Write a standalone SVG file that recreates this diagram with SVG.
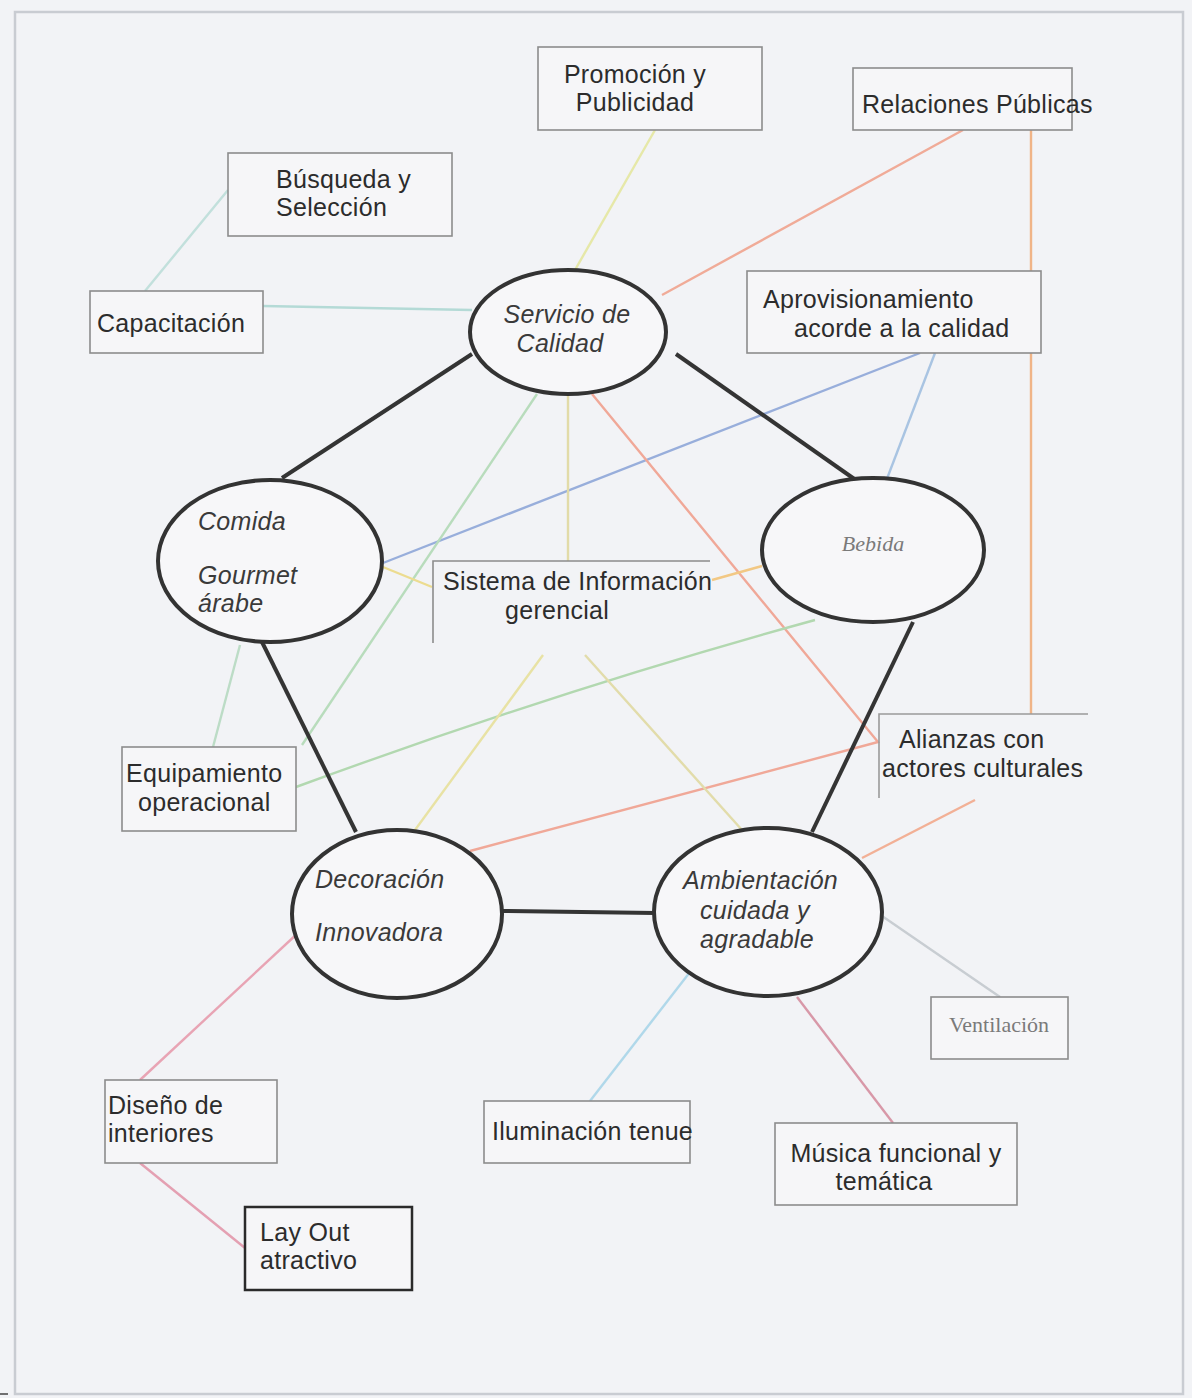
<svg xmlns="http://www.w3.org/2000/svg" width="1192" height="1398" viewBox="0 0 1192 1398">
<style>
.bg{fill:#f2f3f6}
.box{fill:#f6f6f8;stroke:#8c8c8c;stroke-width:1.6}
.ell{fill:#f7f7f9;stroke:#333;stroke-width:4}
.t{font-family:"Liberation Sans",Arial,sans-serif;font-size:25px;fill:#2c2c2c;letter-spacing:0.3px}
.i{font-family:"Liberation Sans",Arial,sans-serif;font-size:25px;font-style:italic;fill:#3a3a3a;letter-spacing:0.3px}
.s{font-family:"Liberation Serif",serif;font-size:22px;fill:#7a7a7a}
.k{stroke:#343434;stroke-width:4;fill:none}
.c{stroke-width:2.4;fill:none}
</style>
<rect class="bg" x="0" y="0" width="1192" height="1398"/>
<rect x="15" y="12" width="1168" height="1382" fill="none" stroke="#c9ccd2" stroke-width="2.5"/>
<line x1="0" y1="1394" x2="8" y2="1394" stroke="#444" stroke-width="1.5"/>
<g id="connectors">
<line class="c" x1="228" y1="190" x2="145" y2="291" stroke="#c2e0dc"/>
<line class="c" x1="263" y1="306" x2="472" y2="310" stroke="#b4dad6" stroke-width="4"/>
<line class="c" x1="655" y1="130" x2="575" y2="270" stroke="#e6e8a8"/>
<line class="c" x1="963" y1="130" x2="662" y2="295" stroke="#f0ab98"/>
<line class="c" x1="1031" y1="130" x2="1031" y2="714" stroke="#f0b487"/>
<line class="c" x1="935" y1="353" x2="880" y2="497" stroke="#a9c4e2"/>
<line class="c" x1="920" y1="353" x2="383" y2="563" stroke="#98aedb"/>
<line class="c" x1="537" y1="394" x2="302" y2="745" stroke="#b8dcbc"/>
<line class="c" x1="568" y1="395" x2="568" y2="561" stroke="#e2dba8"/>
<polyline class="c" points="592,394 878,742 470,851" stroke="#f0a898"/>
<line class="c" x1="383" y1="567" x2="432" y2="587" stroke="#ecdc90" stroke-width="3.5"/>
<line class="c" x1="712" y1="580" x2="762" y2="566" stroke="#f2c884" stroke-width="3"/>
<line class="c" x1="240" y1="645" x2="213" y2="747" stroke="#bcdcc6"/>
<path class="c" d="M296,787 Q560,690 815,620" stroke="#b2d8b0" stroke-width="3"/>
<line class="c" x1="543" y1="655" x2="415" y2="830" stroke="#e8e2a4"/>
<line class="c" x1="585" y1="655" x2="742" y2="830" stroke="#e2dcaa"/>
<line class="c" x1="862" y1="858" x2="975" y2="800" stroke="#f2b096"/>
<line class="c" x1="882" y1="916" x2="1000" y2="997" stroke="#c8cdd2"/>
<line class="c" x1="797" y1="997" x2="893" y2="1123" stroke="#d898a8"/>
<line class="c" x1="690" y1="972" x2="590" y2="1101" stroke="#b0d8ea"/>
<line class="c" x1="298" y1="933" x2="140" y2="1080" stroke="#e8a4b4"/>
<line class="c" x1="140" y1="1163" x2="245" y2="1248" stroke="#e4a0b2"/>
<line class="k" x1="472" y1="354" x2="282" y2="478"/>
<line class="k" x1="676" y1="354" x2="880" y2="497"/>
<line class="k" x1="262" y1="642" x2="356" y2="832"/>
<line class="k" x1="913" y1="622" x2="812" y2="832"/>
<line class="k" x1="502" y1="911" x2="655" y2="913"/>
</g>
<g id="promocion"><rect class="box" x="538" y="47" width="224" height="83"/><text class="t" x="635" y="83" text-anchor="middle">Promoción y</text><text class="t" x="635" y="111" text-anchor="middle">Publicidad</text></g>
<g id="relaciones"><rect class="box" x="853" y="68" width="219" height="62"/><text class="t" x="862" y="113">Relaciones Públicas</text></g>
<g id="busqueda"><rect class="box" x="228" y="153" width="224" height="83"/><text class="t" x="276" y="188">Búsqueda y</text><text class="t" x="276" y="216">Selección</text></g>
<g id="capacitacion"><rect class="box" x="90" y="291" width="173" height="62"/><text class="t" x="97" y="332">Capacitación</text></g>
<g id="servicio"><ellipse class="ell" cx="568" cy="332" rx="98" ry="62"/><text class="i" x="567" y="323" text-anchor="middle">Servicio de</text><text class="i" x="560" y="352" text-anchor="middle">Calidad</text></g>
<g id="aprovisionamiento"><rect class="box" x="747" y="271" width="294" height="82"/><text class="t" x="763" y="308">Aprovisionamiento</text><text class="t" x="794" y="337">acorde a la calidad</text></g>
<g id="comida"><ellipse class="ell" cx="270" cy="561" rx="112" ry="81"/><text class="i" x="198" y="530">Comida</text><text class="i" x="198" y="584">Gourmet</text><text class="i" x="198" y="612">árabe</text></g>
<g id="bebida"><ellipse class="ell" cx="873" cy="550" rx="111" ry="72"/><text class="s" x="873" y="551" text-anchor="middle" font-style="italic">Bebida</text></g>
<g id="sistema"><polyline points="433,643 433,561 710,561" fill="none" stroke="#8c8c8c" stroke-width="1.6"/><text class="t" x="443" y="590">Sistema de Información</text><text class="t" x="505" y="619">gerencial</text></g>
<g id="equipamiento"><rect class="box" x="122" y="747" width="174" height="84"/><text class="t" x="126" y="782">Equipamiento</text><text class="t" x="138" y="811">operacional</text></g>
<g id="alianzas"><polyline points="879,798 879,714 1088,714" fill="none" stroke="#9a9a9a" stroke-width="1.6"/><text class="t" x="899" y="748">Alianzas con</text><text class="t" x="882" y="777">actores culturales</text></g>
<g id="decoracion"><ellipse class="ell" cx="397" cy="914" rx="105" ry="84"/><text class="i" x="315" y="888">Decoración</text><text class="i" x="315" y="941">Innovadora</text></g>
<g id="ambientacion"><ellipse class="ell" cx="768" cy="912" rx="114" ry="84"/><text class="i" x="683" y="889">Ambientación</text><text class="i" x="700" y="919">cuidada y</text><text class="i" x="700" y="948">agradable</text></g>
<g id="ventilacion"><rect class="box" x="931" y="997" width="137" height="62"/><text class="s" x="999" y="1032" text-anchor="middle">Ventilación</text></g>
<g id="diseno"><rect class="box" x="105" y="1080" width="172" height="83"/><text class="t" x="108" y="1114">Diseño de</text><text class="t" x="108" y="1142">interiores</text></g>
<g id="iluminacion"><rect class="box" x="484" y="1101" width="206" height="62"/><text class="t" x="492" y="1140">Iluminación tenue</text></g>
<g id="musica"><rect class="box" x="775" y="1123" width="242" height="82"/><text class="t" x="896" y="1162" text-anchor="middle">Música funcional y</text><text class="t" x="884" y="1190" text-anchor="middle">temática</text></g>
<g id="layout"><rect x="245" y="1207" width="167" height="83" fill="#f6f6f8" stroke="#2a2a2a" stroke-width="2.5"/><text class="t" x="260" y="1241">Lay Out</text><text class="t" x="260" y="1269">atractivo</text></g>
</svg>
